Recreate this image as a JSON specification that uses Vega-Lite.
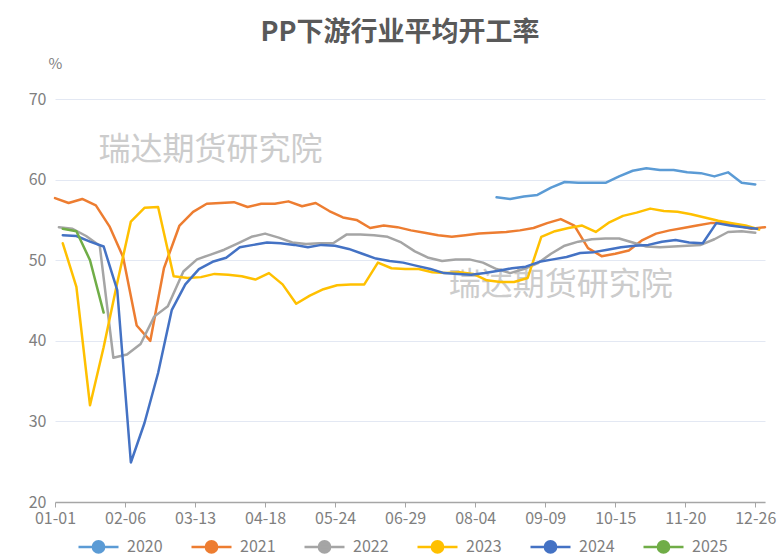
{
  "$schema": "https://vega.github.io/schema/vega-lite/v6.json",
  "width": 710,
  "height": 403,
  "autosize": {"type": "none"},
  "padding": {"left": 55, "top": 99, "right": 18, "bottom": 56},
  "background": "white",
  "title": {"text": "PP下游行业平均开工率", "fontSize": 27, "fontWeight": "bold", "color": "#595959", "anchor": "middle", "baseline": "alphabetic", "offset": -12, "dx": -10, "font": "Noto Sans CJK SC"},
  "config": {"font": "Noto Sans CJK SC", "view": {"stroke": null}},
  "encoding": {
    "x": {"field": "d", "timeUnit": "monthdate", "type": "temporal", "title": null,
      "scale": {"domain": [{"year": 2012, "month": 1, "date": 1}, {"year": 2012, "month": 12, "date": 31}]},
      "axis": {"values": [{"year": 2012, "month": 1, "date": 1}, {"year": 2012, "month": 2, "date": 6}, {"year": 2012, "month": 3, "date": 13}, {"year": 2012, "month": 4, "date": 18}, {"year": 2012, "month": 5, "date": 24}, {"year": 2012, "month": 6, "date": 29}, {"year": 2012, "month": 8, "date": 4}, {"year": 2012, "month": 9, "date": 9}, {"year": 2012, "month": 10, "date": 15}, {"year": 2012, "month": 11, "date": 20}, {"year": 2012, "month": 12, "date": 26}],
        "format": "%m-%d", "labelFontSize": 16, "labelColor": "#7f7f7f", "domainColor": "#a6a6a6", "domainWidth": 1.5, "tickColor": "#a6a6a6", "tickSize": 5, "grid": false, "labelPadding": 3, "labelFlush": false, "labelOverlap": false}},
    "y": {"field": "v", "type": "quantitative",
      "scale": {"domain": [20, 70], "nice": false, "zero": false},
      "axis": {"values": [20, 30, 40, 50, 60, 70], "title": "%", "titleAngle": 0, "titleX": 0, "titleY": -36, "titleAlign": "center", "titleBaseline": "middle", "titleFontSize": 15, "titleColor": "#7f7f7f", "titleFontWeight": "normal", "domain": false, "ticks": false, "labelFontSize": 16, "labelColor": "#7f7f7f", "labelPadding": 9, "gridColor": "#e3e8f3", "gridWidth": 1}}
  },
  "layer": [
    {
      "data": {"values": [
        {"d": "2012/03/21", "v": 63.7, "t": "瑞达期货研究院"},
        {"d": "2012/09/17", "v": 46.9, "t": "瑞达期货研究院"}
      ]},
      "mark": {"type": "text", "fontSize": 32, "color": "#cccccc", "align": "center", "baseline": "middle"},
      "encoding": {"text": {"field": "t"}}
    },
    {
      "data": {"values": [
        {"s": "2020", "d": "2020/08/15", "v": 57.8}, {"s": "2020", "d": "2020/08/22", "v": 57.6}, {"s": "2020", "d": "2020/08/29", "v": 57.9}, {"s": "2020", "d": "2020/09/05", "v": 58.1}, {"s": "2020", "d": "2020/09/12", "v": 59.0}, {"s": "2020", "d": "2020/09/19", "v": 59.7}, {"s": "2020", "d": "2020/09/26", "v": 59.6}, {"s": "2020", "d": "2020/10/03", "v": 59.6}, {"s": "2020", "d": "2020/10/10", "v": 59.6}, {"s": "2020", "d": "2020/10/17", "v": 60.4}, {"s": "2020", "d": "2020/10/24", "v": 61.1}, {"s": "2020", "d": "2020/10/31", "v": 61.4}, {"s": "2020", "d": "2020/11/07", "v": 61.2}, {"s": "2020", "d": "2020/11/14", "v": 61.2}, {"s": "2020", "d": "2020/11/21", "v": 60.9}, {"s": "2020", "d": "2020/11/28", "v": 60.8}, {"s": "2020", "d": "2020/12/05", "v": 60.4}, {"s": "2020", "d": "2020/12/12", "v": 60.9}, {"s": "2020", "d": "2020/12/19", "v": 59.6}, {"s": "2020", "d": "2020/12/26", "v": 59.4},
        {"s": "2021", "d": "2021/01/01", "v": 57.7}, {"s": "2021", "d": "2021/01/08", "v": 57.1}, {"s": "2021", "d": "2021/01/15", "v": 57.6}, {"s": "2021", "d": "2021/01/22", "v": 56.8}, {"s": "2021", "d": "2021/01/29", "v": 54.2}, {"s": "2021", "d": "2021/02/05", "v": 50.4}, {"s": "2021", "d": "2021/02/12", "v": 41.9}, {"s": "2021", "d": "2021/02/19", "v": 40.0}, {"s": "2021", "d": "2021/02/26", "v": 49.0}, {"s": "2021", "d": "2021/03/05", "v": 54.3}, {"s": "2021", "d": "2021/03/12", "v": 56.0}, {"s": "2021", "d": "2021/03/19", "v": 57.0}, {"s": "2021", "d": "2021/03/26", "v": 57.1}, {"s": "2021", "d": "2021/04/02", "v": 57.2}, {"s": "2021", "d": "2021/04/09", "v": 56.6}, {"s": "2021", "d": "2021/04/16", "v": 57.0}, {"s": "2021", "d": "2021/04/23", "v": 57.0}, {"s": "2021", "d": "2021/04/30", "v": 57.3}, {"s": "2021", "d": "2021/05/07", "v": 56.7}, {"s": "2021", "d": "2021/05/14", "v": 57.1}, {"s": "2021", "d": "2021/05/21", "v": 56.1}, {"s": "2021", "d": "2021/05/28", "v": 55.3}, {"s": "2021", "d": "2021/06/04", "v": 55.0}, {"s": "2021", "d": "2021/06/11", "v": 54.0}, {"s": "2021", "d": "2021/06/18", "v": 54.3}, {"s": "2021", "d": "2021/06/25", "v": 54.1}, {"s": "2021", "d": "2021/07/02", "v": 53.7}, {"s": "2021", "d": "2021/07/09", "v": 53.4}, {"s": "2021", "d": "2021/07/16", "v": 53.1}, {"s": "2021", "d": "2021/07/23", "v": 52.9}, {"s": "2021", "d": "2021/07/30", "v": 53.1}, {"s": "2021", "d": "2021/08/06", "v": 53.3}, {"s": "2021", "d": "2021/08/13", "v": 53.4}, {"s": "2021", "d": "2021/08/20", "v": 53.5}, {"s": "2021", "d": "2021/08/27", "v": 53.7}, {"s": "2021", "d": "2021/09/03", "v": 54.0}, {"s": "2021", "d": "2021/09/10", "v": 54.6}, {"s": "2021", "d": "2021/09/17", "v": 55.1}, {"s": "2021", "d": "2021/09/24", "v": 54.3}, {"s": "2021", "d": "2021/10/01", "v": 51.5}, {"s": "2021", "d": "2021/10/08", "v": 50.5}, {"s": "2021", "d": "2021/10/15", "v": 50.8}, {"s": "2021", "d": "2021/10/22", "v": 51.2}, {"s": "2021", "d": "2021/10/29", "v": 52.5}, {"s": "2021", "d": "2021/11/05", "v": 53.3}, {"s": "2021", "d": "2021/11/12", "v": 53.7}, {"s": "2021", "d": "2021/11/19", "v": 54.0}, {"s": "2021", "d": "2021/11/26", "v": 54.3}, {"s": "2021", "d": "2021/12/03", "v": 54.6}, {"s": "2021", "d": "2021/12/10", "v": 54.6}, {"s": "2021", "d": "2021/12/17", "v": 54.3}, {"s": "2021", "d": "2021/12/24", "v": 53.9}, {"s": "2021", "d": "2021/12/31", "v": 54.1},
        {"s": "2022", "d": "2022/01/03", "v": 54.1}, {"s": "2022", "d": "2022/01/10", "v": 53.9}, {"s": "2022", "d": "2022/01/17", "v": 53.0}, {"s": "2022", "d": "2022/01/24", "v": 51.8}, {"s": "2022", "d": "2022/01/31", "v": 37.9}, {"s": "2022", "d": "2022/02/07", "v": 38.3}, {"s": "2022", "d": "2022/02/14", "v": 39.6}, {"s": "2022", "d": "2022/02/21", "v": 43.0}, {"s": "2022", "d": "2022/02/28", "v": 44.3}, {"s": "2022", "d": "2022/03/07", "v": 48.6}, {"s": "2022", "d": "2022/03/14", "v": 50.1}, {"s": "2022", "d": "2022/03/21", "v": 50.7}, {"s": "2022", "d": "2022/03/28", "v": 51.3}, {"s": "2022", "d": "2022/04/04", "v": 52.1}, {"s": "2022", "d": "2022/04/11", "v": 52.9}, {"s": "2022", "d": "2022/04/18", "v": 53.3}, {"s": "2022", "d": "2022/04/25", "v": 52.8}, {"s": "2022", "d": "2022/05/02", "v": 52.2}, {"s": "2022", "d": "2022/05/09", "v": 52.0}, {"s": "2022", "d": "2022/05/16", "v": 52.1}, {"s": "2022", "d": "2022/05/23", "v": 52.1}, {"s": "2022", "d": "2022/05/30", "v": 53.2}, {"s": "2022", "d": "2022/06/06", "v": 53.2}, {"s": "2022", "d": "2022/06/13", "v": 53.1}, {"s": "2022", "d": "2022/06/20", "v": 52.9}, {"s": "2022", "d": "2022/06/27", "v": 52.2}, {"s": "2022", "d": "2022/07/04", "v": 51.1}, {"s": "2022", "d": "2022/07/11", "v": 50.3}, {"s": "2022", "d": "2022/07/18", "v": 49.9}, {"s": "2022", "d": "2022/07/25", "v": 50.1}, {"s": "2022", "d": "2022/08/01", "v": 50.1}, {"s": "2022", "d": "2022/08/08", "v": 49.7}, {"s": "2022", "d": "2022/08/15", "v": 48.9}, {"s": "2022", "d": "2022/08/22", "v": 48.4}, {"s": "2022", "d": "2022/08/29", "v": 48.9}, {"s": "2022", "d": "2022/09/05", "v": 49.6}, {"s": "2022", "d": "2022/09/12", "v": 50.8}, {"s": "2022", "d": "2022/09/19", "v": 51.8}, {"s": "2022", "d": "2022/09/26", "v": 52.3}, {"s": "2022", "d": "2022/10/03", "v": 52.6}, {"s": "2022", "d": "2022/10/10", "v": 52.7}, {"s": "2022", "d": "2022/10/17", "v": 52.7}, {"s": "2022", "d": "2022/10/24", "v": 52.2}, {"s": "2022", "d": "2022/10/31", "v": 51.7}, {"s": "2022", "d": "2022/11/07", "v": 51.6}, {"s": "2022", "d": "2022/11/14", "v": 51.7}, {"s": "2022", "d": "2022/11/21", "v": 51.8}, {"s": "2022", "d": "2022/11/28", "v": 51.9}, {"s": "2022", "d": "2022/12/05", "v": 52.6}, {"s": "2022", "d": "2022/12/12", "v": 53.5}, {"s": "2022", "d": "2022/12/19", "v": 53.6}, {"s": "2022", "d": "2022/12/26", "v": 53.4},
        {"s": "2023", "d": "2023/01/05", "v": 52.1}, {"s": "2023", "d": "2023/01/12", "v": 46.7}, {"s": "2023", "d": "2023/01/19", "v": 32.0}, {"s": "2023", "d": "2023/01/26", "v": 39.2}, {"s": "2023", "d": "2023/02/02", "v": 47.2}, {"s": "2023", "d": "2023/02/09", "v": 54.8}, {"s": "2023", "d": "2023/02/16", "v": 56.5}, {"s": "2023", "d": "2023/02/23", "v": 56.6}, {"s": "2023", "d": "2023/03/02", "v": 48.0}, {"s": "2023", "d": "2023/03/09", "v": 47.8}, {"s": "2023", "d": "2023/03/16", "v": 47.9}, {"s": "2023", "d": "2023/03/23", "v": 48.3}, {"s": "2023", "d": "2023/03/30", "v": 48.2}, {"s": "2023", "d": "2023/04/06", "v": 48.0}, {"s": "2023", "d": "2023/04/13", "v": 47.6}, {"s": "2023", "d": "2023/04/20", "v": 48.4}, {"s": "2023", "d": "2023/04/27", "v": 47.0}, {"s": "2023", "d": "2023/05/04", "v": 44.6}, {"s": "2023", "d": "2023/05/11", "v": 45.6}, {"s": "2023", "d": "2023/05/18", "v": 46.4}, {"s": "2023", "d": "2023/05/25", "v": 46.9}, {"s": "2023", "d": "2023/06/01", "v": 47.0}, {"s": "2023", "d": "2023/06/08", "v": 47.0}, {"s": "2023", "d": "2023/06/15", "v": 49.7}, {"s": "2023", "d": "2023/06/22", "v": 49.0}, {"s": "2023", "d": "2023/06/29", "v": 48.9}, {"s": "2023", "d": "2023/07/06", "v": 48.9}, {"s": "2023", "d": "2023/07/13", "v": 48.5}, {"s": "2023", "d": "2023/07/20", "v": 48.4}, {"s": "2023", "d": "2023/07/27", "v": 48.5}, {"s": "2023", "d": "2023/08/03", "v": 48.3}, {"s": "2023", "d": "2023/08/10", "v": 47.5}, {"s": "2023", "d": "2023/08/17", "v": 47.3}, {"s": "2023", "d": "2023/08/24", "v": 47.3}, {"s": "2023", "d": "2023/08/31", "v": 47.8}, {"s": "2023", "d": "2023/09/07", "v": 52.9}, {"s": "2023", "d": "2023/09/14", "v": 53.6}, {"s": "2023", "d": "2023/09/21", "v": 54.0}, {"s": "2023", "d": "2023/09/28", "v": 54.3}, {"s": "2023", "d": "2023/10/05", "v": 53.5}, {"s": "2023", "d": "2023/10/12", "v": 54.7}, {"s": "2023", "d": "2023/10/19", "v": 55.5}, {"s": "2023", "d": "2023/10/26", "v": 55.9}, {"s": "2023", "d": "2023/11/02", "v": 56.4}, {"s": "2023", "d": "2023/11/09", "v": 56.1}, {"s": "2023", "d": "2023/11/16", "v": 56.0}, {"s": "2023", "d": "2023/11/23", "v": 55.7}, {"s": "2023", "d": "2023/11/30", "v": 55.3}, {"s": "2023", "d": "2023/12/07", "v": 54.9}, {"s": "2023", "d": "2023/12/14", "v": 54.6}, {"s": "2023", "d": "2023/12/21", "v": 54.3}, {"s": "2023", "d": "2023/12/28", "v": 53.8},
        {"s": "2024", "d": "2024/01/05", "v": 53.1}, {"s": "2024", "d": "2024/01/12", "v": 53.0}, {"s": "2024", "d": "2024/01/19", "v": 52.3}, {"s": "2024", "d": "2024/01/26", "v": 51.7}, {"s": "2024", "d": "2024/02/02", "v": 46.3}, {"s": "2024", "d": "2024/02/09", "v": 24.9}, {"s": "2024", "d": "2024/02/16", "v": 29.8}, {"s": "2024", "d": "2024/02/23", "v": 36.0}, {"s": "2024", "d": "2024/03/01", "v": 43.8}, {"s": "2024", "d": "2024/03/08", "v": 47.0}, {"s": "2024", "d": "2024/03/15", "v": 48.9}, {"s": "2024", "d": "2024/03/22", "v": 49.8}, {"s": "2024", "d": "2024/03/29", "v": 50.3}, {"s": "2024", "d": "2024/04/05", "v": 51.6}, {"s": "2024", "d": "2024/04/12", "v": 51.9}, {"s": "2024", "d": "2024/04/19", "v": 52.2}, {"s": "2024", "d": "2024/04/26", "v": 52.1}, {"s": "2024", "d": "2024/05/03", "v": 51.9}, {"s": "2024", "d": "2024/05/10", "v": 51.6}, {"s": "2024", "d": "2024/05/17", "v": 51.9}, {"s": "2024", "d": "2024/05/24", "v": 51.8}, {"s": "2024", "d": "2024/05/31", "v": 51.4}, {"s": "2024", "d": "2024/06/07", "v": 50.8}, {"s": "2024", "d": "2024/06/14", "v": 50.2}, {"s": "2024", "d": "2024/06/21", "v": 49.9}, {"s": "2024", "d": "2024/06/28", "v": 49.7}, {"s": "2024", "d": "2024/07/05", "v": 49.3}, {"s": "2024", "d": "2024/07/12", "v": 48.9}, {"s": "2024", "d": "2024/07/19", "v": 48.4}, {"s": "2024", "d": "2024/07/26", "v": 48.3}, {"s": "2024", "d": "2024/08/02", "v": 48.2}, {"s": "2024", "d": "2024/08/09", "v": 48.4}, {"s": "2024", "d": "2024/08/16", "v": 48.7}, {"s": "2024", "d": "2024/08/23", "v": 49.0}, {"s": "2024", "d": "2024/08/30", "v": 49.2}, {"s": "2024", "d": "2024/09/06", "v": 49.8}, {"s": "2024", "d": "2024/09/13", "v": 50.1}, {"s": "2024", "d": "2024/09/20", "v": 50.4}, {"s": "2024", "d": "2024/09/27", "v": 50.9}, {"s": "2024", "d": "2024/10/04", "v": 51.0}, {"s": "2024", "d": "2024/10/11", "v": 51.3}, {"s": "2024", "d": "2024/10/18", "v": 51.6}, {"s": "2024", "d": "2024/10/25", "v": 51.8}, {"s": "2024", "d": "2024/11/01", "v": 51.9}, {"s": "2024", "d": "2024/11/08", "v": 52.3}, {"s": "2024", "d": "2024/11/15", "v": 52.5}, {"s": "2024", "d": "2024/11/22", "v": 52.2}, {"s": "2024", "d": "2024/11/29", "v": 52.1}, {"s": "2024", "d": "2024/12/06", "v": 54.6}, {"s": "2024", "d": "2024/12/13", "v": 54.3}, {"s": "2024", "d": "2024/12/20", "v": 54.1}, {"s": "2024", "d": "2024/12/27", "v": 53.9},
        {"s": "2025", "d": "2025/01/05", "v": 53.9}, {"s": "2025", "d": "2025/01/12", "v": 53.6}, {"s": "2025", "d": "2025/01/19", "v": 50.0}, {"s": "2025", "d": "2025/01/26", "v": 43.5}
      ]},
      "mark": {"type": "line", "strokeWidth": 2.5, "strokeJoin": "round", "strokeCap": "round"},
      "encoding": {
        "color": {"field": "s", "type": "nominal", "title": null,
          "scale": {"domain": ["2020", "2021", "2022", "2023", "2024", "2025"], "range": ["#5B9BD5", "#ED7D31", "#A5A5A5", "#FFC000", "#4472C4", "#70AD47"]},
          "legend": {"orient": "none", "legendX": 22, "legendY": 426, "direction": "horizontal",
            "symbolType": "M-1,0L1,0M-0.28,0A0.28,0.28,0,1,1,0.28,0A0.28,0.28,0,1,1,-0.28,0Z",
            "symbolSize": 1600, "symbolStrokeWidth": 2.5, "labelFontSize": 16, "labelColor": "#7f7f7f", "labelOffset": 7, "columnPadding": 23,
            "encode": {"symbols": {"update": {"fill": {"scale": "color", "field": "value"}}}}}
        }
      }
    }
  ]
}
